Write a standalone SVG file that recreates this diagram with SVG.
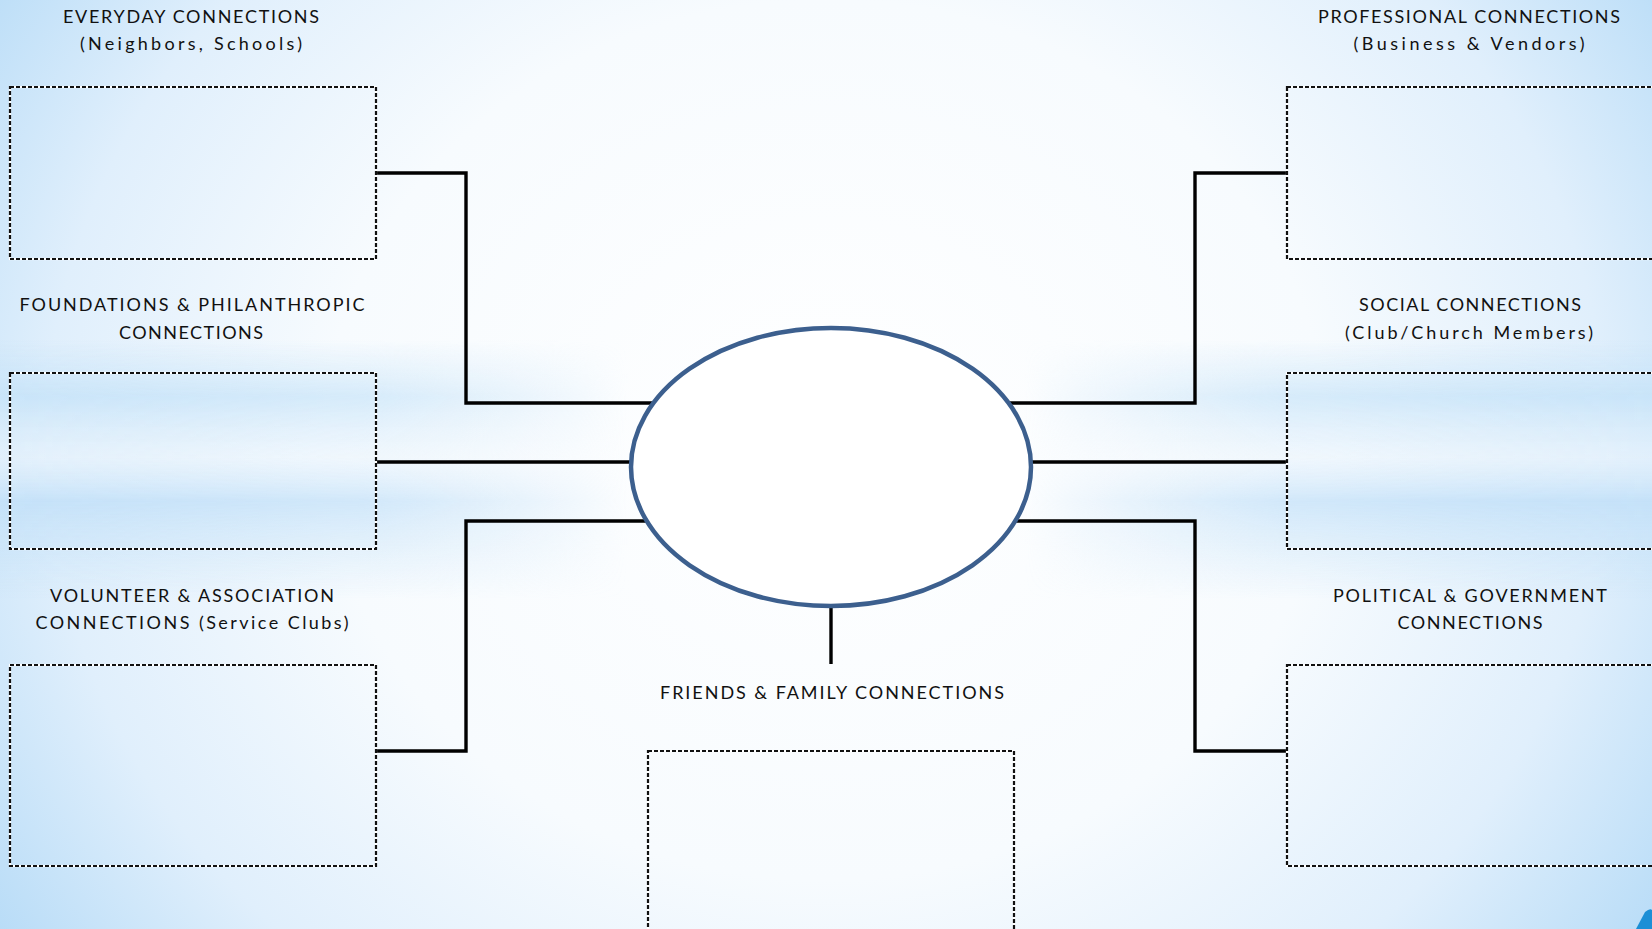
<svg xmlns="http://www.w3.org/2000/svg" width="1652" height="929" viewBox="0 0 1652 929">
<defs>
<radialGradient id="bg" cx="826" cy="440" r="1000" gradientUnits="userSpaceOnUse" gradientTransform="translate(826 440) scale(1 0.88) translate(-826 -440)">
<stop offset="0" stop-color="#ffffff"/>
<stop offset="0.5" stop-color="#f7fbfe"/>
<stop offset="0.78" stop-color="#e0effc"/>
<stop offset="1" stop-color="#b8dcf7"/>
</radialGradient>
<linearGradient id="band" x1="0" y1="340" x2="0" y2="600" gradientUnits="userSpaceOnUse">
<stop offset="0" stop-color="#c6e3f8" stop-opacity="0"/>
<stop offset="0.22" stop-color="#c6e3f8" stop-opacity="0.85"/>
<stop offset="0.45" stop-color="#e8f3fc" stop-opacity="0.6"/>
<stop offset="0.62" stop-color="#c2e0f8" stop-opacity="0.9"/>
<stop offset="1" stop-color="#c6e3f8" stop-opacity="0"/>
</linearGradient>
<linearGradient id="bandMaskG" x1="0" y1="0" x2="1652" y2="0" gradientUnits="userSpaceOnUse">
<stop offset="0" stop-color="#fff"/>
<stop offset="0.22" stop-color="#fff" stop-opacity="0.8"/>
<stop offset="0.38" stop-color="#000"/>
<stop offset="0.62" stop-color="#000"/>
<stop offset="0.78" stop-color="#fff" stop-opacity="0.8"/>
<stop offset="1" stop-color="#fff"/>
</linearGradient>
<mask id="bandMask"><rect x="0" y="0" width="1652" height="929" fill="url(#bandMaskG)"/></mask>
<style>
.lbl{font-family:Lato,"Open Sans","Liberation Sans",sans-serif;font-size:18px;fill:#111111;text-anchor:middle}
.box-under{fill:none;stroke:#ffffff;stroke-width:2.2}
.box{fill:none;stroke:#111111;stroke-width:2.2;stroke-dasharray:4 2}
.conn{fill:none;stroke:#000000;stroke-width:3.4;stroke-linejoin:miter}
</style>
</defs>
<rect x="0" y="0" width="1652" height="929" fill="url(#bg)"/>
<rect x="0" y="330" width="1652" height="280" fill="url(#band)" mask="url(#bandMask)"/>
<path d="M1636 929 L1645 912 Q1650 908 1652 910 L1652 929 Z" fill="#1b8fd6"/>

<g id="connectors">
<polyline class="conn" points="376,173 466,173 466,403 700,403"/>
<line class="conn" x1="376" y1="462" x2="700" y2="462"/>
<polyline class="conn" points="376,751 466,751 466,521 700,521"/>
<polyline class="conn" points="1287,173 1195,173 1195,403 960,403"/>
<line class="conn" x1="1287" y1="462" x2="960" y2="462"/>
<polyline class="conn" points="1287,751 1195,751 1195,521 960,521"/>
<line class="conn" x1="831" y1="600" x2="831" y2="664"/>
</g>

<g id="center">
<ellipse cx="831" cy="467" rx="200" ry="139" fill="#ffffff" stroke="#3c5f8e" stroke-width="4.5"/>
</g>

<g id="everyday">
<text class="lbl" x="191" y="23" textLength="256" lengthAdjust="spacing">EVERYDAY CONNECTIONS</text>
<text class="lbl" x="191" y="50" textLength="222" lengthAdjust="spacing">(Neighbors, Schools)</text>
<rect class="box-under" x="10" y="87" width="366" height="172"/>
<rect class="box" x="10" y="87" width="366" height="172"/>
</g>

<g id="foundations">
<text class="lbl" x="192" y="311" textLength="345" lengthAdjust="spacing">FOUNDATIONS &amp; PHILANTHROPIC</text>
<text class="lbl" x="191" y="339" textLength="144" lengthAdjust="spacing">CONNECTIONS</text>
<rect class="box-under" x="10" y="373" width="366" height="176"/>
<rect class="box" x="10" y="373" width="366" height="176"/>
</g>

<g id="volunteer">
<text class="lbl" x="192" y="602" textLength="284" lengthAdjust="spacing">VOLUNTEER &amp; ASSOCIATION</text>
<text class="lbl" x="192" y="629" textLength="313" lengthAdjust="spacing">CONNECTIONS  (Service Clubs)</text>
<rect class="box-under" x="10" y="665" width="366" height="201"/>
<rect class="box" x="10" y="665" width="366" height="201"/>
</g>

<g id="professional">
<text class="lbl" x="1469" y="23" textLength="302" lengthAdjust="spacing">PROFESSIONAL CONNECTIONS</text>
<text class="lbl" x="1469" y="50" textLength="231" lengthAdjust="spacing">(Business &amp; Vendors)</text>
<rect class="box-under" x="1287" y="87" width="370" height="172"/>
<rect class="box" x="1287" y="87" width="370" height="172"/>
</g>

<g id="social">
<text class="lbl" x="1470" y="311" textLength="222" lengthAdjust="spacing">SOCIAL CONNECTIONS</text>
<text class="lbl" x="1469" y="339" textLength="248" lengthAdjust="spacing">(Club/Church Members)</text>
<rect class="box-under" x="1287" y="373" width="370" height="176"/>
<rect class="box" x="1287" y="373" width="370" height="176"/>
</g>

<g id="political">
<text class="lbl" x="1470" y="602" textLength="274" lengthAdjust="spacing">POLITICAL &amp; GOVERNMENT</text>
<text class="lbl" x="1470" y="629" textLength="145" lengthAdjust="spacing">CONNECTIONS</text>
<rect class="box-under" x="1287" y="665" width="370" height="201"/>
<rect class="box" x="1287" y="665" width="370" height="201"/>
</g>

<g id="friends">
<text class="lbl" x="832" y="699" textLength="344" lengthAdjust="spacing">FRIENDS &amp; FAMILY CONNECTIONS</text>
<rect class="box-under" x="648" y="751" width="366" height="190"/>
<rect class="box" x="648" y="751" width="366" height="190"/>
</g>
</svg>
